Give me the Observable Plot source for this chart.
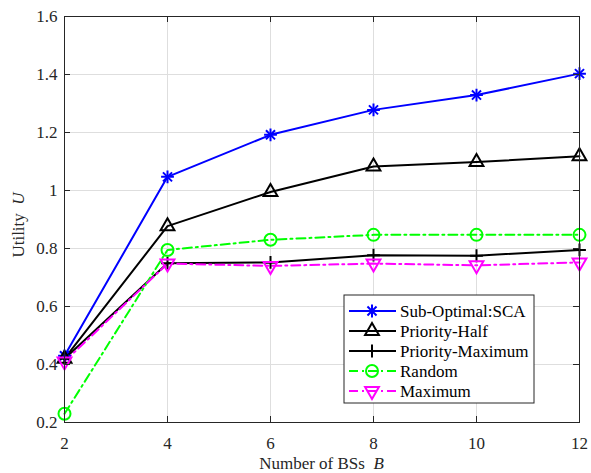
<!DOCTYPE html>
<html><head><meta charset="utf-8">
<script src="https://cdn.jsdelivr.net/npm/d3@7"></script>
<script src="https://cdn.jsdelivr.net/npm/@observablehq/plot@0.6"></script>
<style>body{margin:0;background:#fff} #chart{width:591px;height:473px}
#chart svg text{font-family:"Liberation Serif","Times New Roman",Times,serif !important}</style>
</head><body><div id="chart"></div>
<script>
const bsCounts = [2, 4, 6, 8, 10, 12];
const seriesNames = ["Sub-Optimal:SCA", "Priority-Half", "Priority-Maximum", "Random", "Maximum"];
const scaValues = [0.43, 1.047, 1.192, 1.278, 1.329, 1.403];
const priorityHalfValues = [0.42, 0.877, 0.995, 1.083, 1.098, 1.118];
const priorityMaxValues = [0.42, 0.749, 0.752, 0.777, 0.775, 0.795];
const randomValues = [0.23, 0.795, 0.830, 0.847, 0.847, 0.847];
const maximumValues = [0.41, 0.748, 0.740, 0.748, 0.742, 0.752];
const xTicks = [2, 4, 6, 8, 10, 12];
const yTicks = [0.2, 0.4, 0.6, 0.8, 1, 1.2, 1.4, 1.6];
const xLabel = "Number of BSs";
const xLabelVar = "B";
const yLabel = "Utility";
const yLabelVar = "U";

const allValues = [scaValues, priorityHalfValues, priorityMaxValues, randomValues, maximumValues];
const styles = [
  {color: "#0000ff", dash: null, symbols: [["plus", 4.2], ["times", 4.2]], rotate: 0},
  {color: "#000000", dash: null, symbols: [["triangle2", 6.6]], rotate: 0},
  {color: "#000000", dash: null, symbols: [["plus", 4.2]], rotate: 0},
  {color: "#00ff00", dash: "9,4,2,4", symbols: [["circle", 6]], rotate: 0},
  {color: "#ff00ff", dash: "9,4,2,4", symbols: [["triangle2", 6.6]], rotate: 180}
];
const rows = [];
seriesNames.forEach((name, i) => bsCounts.forEach((b, j) => rows.push({series: name, b, u: allValues[i][j]})));

const W = 591, H = 473, mL = 64, mR = 12, mT = 16, mB = 51;
const fw = W - mL - mR, fh = H - mT - mB;
const axisColor = "#262626";
const font = "'Liberation Serif', 'Times New Roman', Times, serif";

const marks = [
  Plot.gridX(xTicks, {stroke: "#dedede", strokeOpacity: 1}),
  Plot.gridY(yTicks, {stroke: "#dedede", strokeOpacity: 1}),
];
seriesNames.forEach((name, i) => {
  const st = styles[i];
  const data = rows.filter(r => r.series === name);
  marks.push(Plot.line(data, {x: "b", y: "u", stroke: st.color, strokeWidth: 2, strokeDasharray: st.dash}));
});
seriesNames.forEach((name, i) => {
  const st = styles[i];
  const data = rows.filter(r => r.series === name);
  st.symbols.forEach(([sym, r]) => {
    marks.push(Plot.dot(data, {x: "b", y: "u", symbol: sym, r, stroke: st.color, strokeWidth: 2, fill: "none", rotate: st.rotate}));
  });
});
marks.push(
  Plot.tickX(xTicks, {x: d => d, insetTop: fh - 6, stroke: axisColor}),
  Plot.tickX(xTicks, {x: d => d, insetBottom: fh - 6, stroke: axisColor}),
  Plot.tickY(yTicks, {y: d => d, insetRight: fw - 6, stroke: axisColor}),
  Plot.tickY(yTicks, {y: d => d, insetLeft: fw - 6, stroke: axisColor}),
  Plot.frame({stroke: axisColor, strokeWidth: 1}),
  Plot.axisX(xTicks, {tickSize: 0, tickPadding: 14, tickFormat: d => String(d), fill: axisColor, label: null, fontSize: 17, fontFamily: font}),
  Plot.axisY(yTicks, {tickSize: 0, tickPadding: 7, tickFormat: d => String(+d.toFixed(1)), fill: axisColor, label: null, fontSize: 17, fontFamily: font})
);

const chart = Plot.plot({
  width: W, height: H,
  marginLeft: mL, marginRight: mR, marginTop: mT, marginBottom: mB,
  x: {domain: [2, 12]},
  y: {domain: [0.2, 1.6]},
  style: {fontFamily: font, fontSize: "17px", background: "#fff", overflow: "visible"},
  marks
});
document.getElementById("chart").appendChild(chart);

const svg = d3.select(chart);
// axis labels
const xl = svg.append("text").attr("x", mL + fw / 2).attr("y", 469).attr("text-anchor", "middle")
  .attr("font-family", font).attr("font-size", 17).attr("fill", axisColor);
xl.append("tspan").text(xLabel + "\u00a0\u00a0");
xl.append("tspan").attr("font-style", "italic").text(xLabelVar);
const yl = svg.append("text").attr("transform", `translate(24,${mT + fh / 2 + 6}) rotate(-90)`).attr("text-anchor", "middle")
  .attr("font-family", font).attr("font-size", 17).attr("fill", axisColor);
yl.append("tspan").text(yLabel + "\u00a0\u00a0");
yl.append("tspan").attr("font-style", "italic").text(yLabelVar);

// legend
const lg = svg.append("g").attr("transform", "translate(344,295)").attr("text-anchor", "start");
lg.append("rect").attr("width", 190).attr("height", 108).attr("fill", "#fff").attr("stroke", axisColor).attr("stroke-width", 1);
const symMap = {plus: d3.symbolPlus, times: d3.symbolTimes, triangle2: d3.symbolTriangle2, circle: d3.symbolCircle};
seriesNames.forEach((name, i) => {
  const st = styles[i];
  const cy = 16 + i * 20;
  lg.append("line").attr("x1", 5).attr("x2", 52).attr("y1", cy).attr("y2", cy)
    .attr("stroke", st.color).attr("stroke-width", 2).attr("stroke-dasharray", st.dash);
  st.symbols.forEach(([sym, r]) => {
    lg.append("path").attr("d", d3.symbol(symMap[sym], r * r * Math.PI)())
      .attr("transform", `translate(28,${cy}) rotate(${st.rotate})`)
      .attr("fill", "none").attr("stroke", st.color).attr("stroke-width", 2);
  });
  lg.append("text").attr("x", 56).attr("y", cy).attr("dy", "0.35em").attr("font-family", font)
    .attr("text-anchor", "start").attr("font-size", 17).attr("fill", "#000").text(name);
});
</script></body></html>
